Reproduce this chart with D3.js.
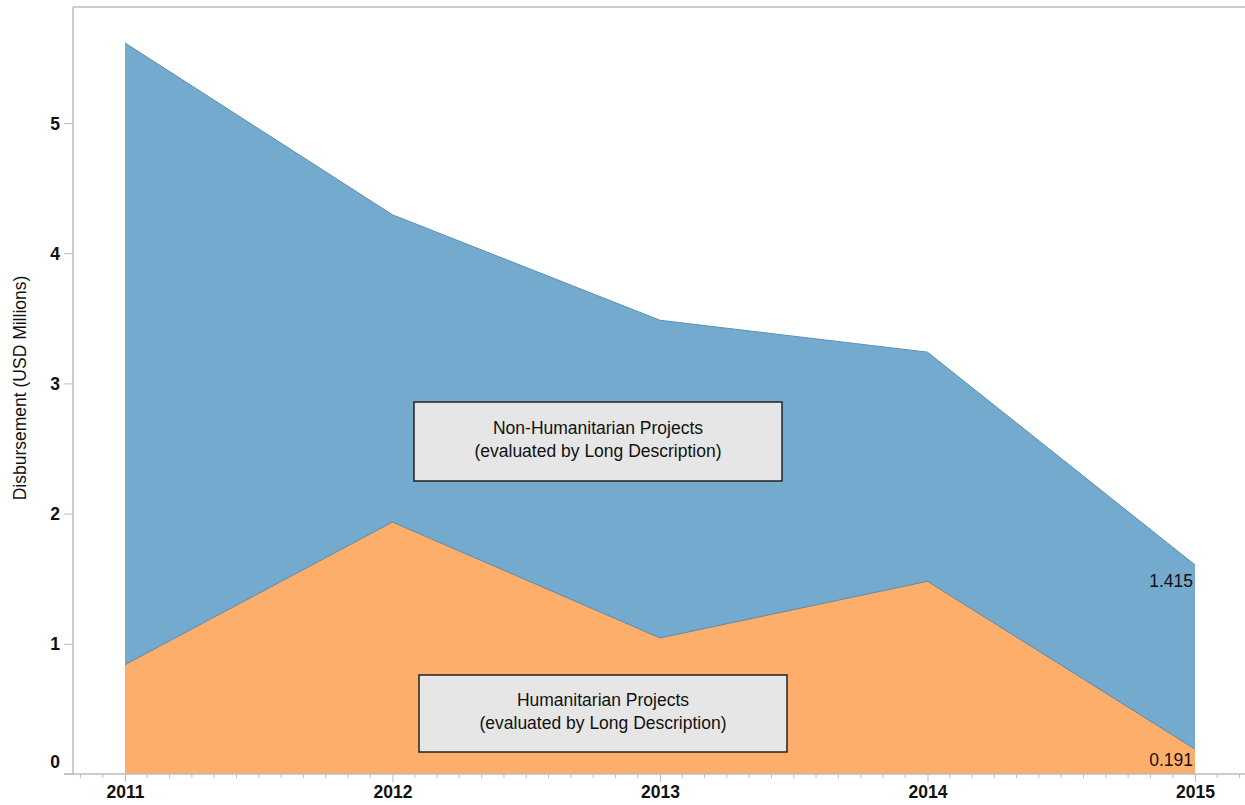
<!DOCTYPE html>
<html>
<head>
<meta charset="utf-8">
<script src="https://cdn.jsdelivr.net/npm/d3@7"></script>
<style>
  body { margin: 0; background: #fff; }
  text { font-family: "Liberation Sans", Arial, sans-serif; fill: #111; }
</style>
</head>
<body>
<svg id="chart" width="1245" height="805"></svg>
<script>
// data
var years = [2011, 2012, 2013, 2014, 2015];
var humanitarian = [0.84, 1.935, 1.045, 1.48, 0.191];
var nonHumanitarian = [4.775, 2.36, 2.44, 1.76, 1.415];
var yTicks = [0, 1, 2, 3, 4, 5];

var svg = d3.select("#chart");
var plotLeft = 73, plotTop = 7, plotRight = 1245, plotBottom = 774;
var fontSize = 17.5;

var x = d3.scaleLinear().domain([2011, 2015]).range([125, 1195]);
var y = d3.scaleLinear().domain([0, 5]).range([plotBottom, plotBottom - 5 * 130.2]);

var rows = years.map(function(yr, i) {
  return { year: yr, hum: humanitarian[i], non: nonHumanitarian[i] };
});
var stack = d3.stack().keys(["hum", "non"]);
var series = stack(rows);
var colors = { hum: "#feae6b", non: "#75aacf" };
var edges = { hum: "#5f87a5", non: "#5a8fb8" };

var area = d3.area()
    .x(function(d) { return x(d.data.year); })
    .y0(function(d) { return y(d[0]); })
    .y1(function(d) { return y(d[1]); });
var topLine = d3.line()
    .x(function(d) { return x(d.data.year); })
    .y(function(d) { return y(d[1]); });

svg.selectAll(".layer")
    .data(series)
  .enter().append("path")
    .attr("class", "layer")
    .attr("d", area)
    .attr("fill", function(s) { return colors[s.key]; });

svg.selectAll(".edge")
    .data(series)
  .enter().append("path")
    .attr("class", "edge")
    .attr("d", topLine)
    .attr("fill", "none")
    .attr("stroke", function(s) { return edges[s.key]; })
    .attr("stroke-width", 1);

/* Assen */
svg.append("line").attr("x1", plotLeft).attr("x2", plotRight).attr("y1", plotTop).attr("y2", plotTop)
    .attr("stroke", "#bbb").attr("stroke-width", 1.5);

var yAxis = d3.axisLeft(y).tickValues(yTicks).tickSize(9).tickPadding(4).tickFormat(d3.format("d"));
var gy = svg.append("g").attr("transform", "translate(" + plotLeft + ",0)").call(yAxis);
gy.select(".domain").attr("d", "M0," + plotTop + "V" + plotBottom).attr("stroke", "#bbb").attr("stroke-width", 1.5);
gy.selectAll(".tick line").attr("stroke", "#bbb");
gy.selectAll(".tick text").attr("font-size", fontSize).attr("font-weight", "bold")
    .attr("font-family", "Liberation Sans, Arial, sans-serif").attr("fill", "#111")
    .attr("dy", function(d) { return d === 0 ? "-0.35em" : "0.35em"; });

// minor monthly ticks
var months = d3.range(2011 - 2 / 12, 2015 + 4.5 / 12, 1 / 12).filter(function(v) {
  return Math.abs(v - Math.round(v)) > 1e-6;
});
svg.append("g").selectAll("line").data(months).enter().append("line")
    .attr("x1", function(d) { return x(d); }).attr("x2", function(d) { return x(d); })
    .attr("y1", plotBottom).attr("y2", plotBottom + 4)
    .attr("stroke", "#bbb");

var xAxis = d3.axisBottom(x).tickValues(years).tickSize(8).tickPadding(4).tickFormat(d3.format("d"));
var gx = svg.append("g").attr("transform", "translate(0," + plotBottom + ")").call(xAxis);
gx.select(".domain").attr("d", "M" + (plotLeft - 9) + ",0H" + plotRight).attr("stroke", "#bbb").attr("stroke-width", 1.5);
gx.selectAll(".tick line").attr("stroke", "#bbb");
gx.selectAll(".tick text").attr("font-size", fontSize).attr("font-weight", "bold")
    .attr("font-family", "Liberation Sans, Arial, sans-serif").attr("fill", "#111");

svg.append("text")
    .attr("transform", "translate(20,388) rotate(-90)")
    .attr("text-anchor", "middle")
    .attr("dy", "0.35em")
    .attr("font-size", fontSize)
    .text("Disbursement (USD Millions)");

/* Waarden bij 2015 */
var last = years.length - 1;
svg.selectAll(".endlabel")
    .data(series)
  .enter().append("text")
    .attr("class", "endlabel")
    .attr("x", x(years[last]) - 2)
    .attr("y", function(s) { return Math.min(y(s[last][1]) + 22, plotBottom - 8); })
    .attr("text-anchor", "end")
    .attr("font-size", fontSize)
    .text(function(s) { return d3.format(".3f")(s[last].data[s.key]); });

/* Labels */
var boxes = [
  { x0: 414, y0: 402, w: 368, h: 79, lines: ["Non-Humanitarian Projects", "(evaluated by Long Description)"] },
  { x0: 419, y0: 675, w: 368, h: 77, lines: ["Humanitarian Projects", "(evaluated by Long Description)"] }
];
var box = svg.selectAll(".box").data(boxes).enter().append("g").attr("class", "box");
box.append("rect")
    .attr("x", function(d) { return d.x0; })
    .attr("y", function(d) { return d.y0; })
    .attr("width", function(d) { return d.w; })
    .attr("height", function(d) { return d.h; })
    .attr("fill", "#e6e6e6").attr("stroke", "#222").attr("stroke-width", 1.5);
box.each(function(d) {
  var g = d3.select(this);
  d.lines.forEach(function(t, i) {
    g.append("text")
      .attr("x", d.x0 + d.w / 2)
      .attr("y", d.y0 + d.h / 2 - 8 + i * 23)
      .attr("text-anchor", "middle")
      .attr("font-size", fontSize)
      .text(t);
  });
});
</script>
</body>
</html>
